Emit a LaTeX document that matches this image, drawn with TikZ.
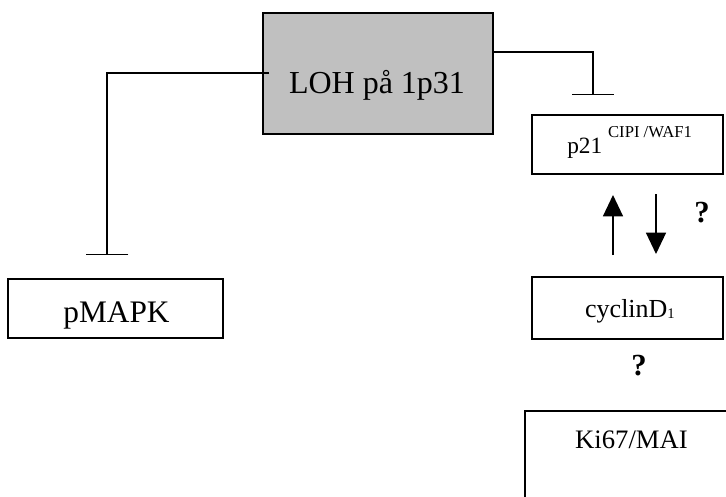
\documentclass[tikz,border=0pt]{standalone}
\usepackage{fontspec}
\setmainfont{Liberation Serif}
\usetikzlibrary{arrows.meta}
\definecolor{lohgray}{RGB}{192,192,192}
\tikzset{
  box/.style={draw=black, line width=1pt, inner sep=0pt, fill=white},
  lbl/.style={inner sep=0pt, anchor=base},
  conn/.style={line width=1pt},
  inhib/.style={conn, -{Bar[width=#1, line width=1pt]}},
  act/.style={conn, -{Triangle[length=16pt, width=15pt]}},
  qmark/.style={lbl, font=\fontsize{23}{25}\selectfont\bfseries}
}
\begin{document}
\begin{tikzpicture}[x=0.75pt, y=-0.75pt]
  \useasboundingbox (0,0) rectangle (726,497);
  \clip (0,0) rectangle (726,497);

  % boxes
  \node[box, fill=lohgray, minimum width=172.5pt, minimum height=90.75pt] (loh) at (378,73.5) {};
  \node[box, minimum width=161.25pt, minimum height=44.25pt] (mapk) at (115.5,308.5) {};
  \node[box, minimum width=143.25pt, minimum height=44.25pt] (p21) at (627.5,144.5) {};
  \node[box, minimum width=143.25pt, minimum height=46.5pt] (cyc) at (627.5,308) {};
  \node[box, minimum width=165pt, minimum height=81.75pt] (ki) at (635,465.5) {};

  % labels
  \node[lbl, font=\fontsize{24}{28}\selectfont] (lohtxt) at (377,93) {LOH på 1p31};
  \node[lbl, font=\fontsize{23.5}{27}\selectfont] (mapktxt) at (116.5,322) {pMAPK};
  \node[lbl, anchor=base west, font=\fontsize{17.5}{20}\selectfont] (p21txt) at (567,153)
    {p21 \raisebox{12pt}{\fontsize{12.5}{14}\selectfont CIPI /WAF1}};
  \node[lbl, font=\fontsize{19.5}{22}\selectfont] (cyctxt) at (630,317)
    {cyclinD\raisebox{-1pt}{\fontsize{11}{12}\selectfont 1}};
  \node[lbl, font=\fontsize{20}{24}\selectfont] (kitxt) at (631.5,448) {Ki67/MAI};
  \node[qmark] (q1) at (702,222) {?};
  \node[qmark] (q2) at (639,375) {?};

  % connector end points
  \coordinate (lohL) at (269,73);
  \coordinate (barL) at (107,255);
  \coordinate (lohR) at (493,52);
  \coordinate (barR) at (593,95);
  \coordinate (upS) at (613,255);
  \coordinate (upE) at (613,195);
  \coordinate (dnS) at (656,194);
  \coordinate (dnE) at (656,254);

  % inhibition lines
  \draw[inhib=32pt] (lohL) -| (barL);
  \draw[inhib=31pt] (lohR) -| (barR);

  % activation arrows between p21 and cyclin D1
  \draw[act] (upS) -- (upE);
  \draw[act] (dnS) -- (dnE);
\end{tikzpicture}
\end{document}
